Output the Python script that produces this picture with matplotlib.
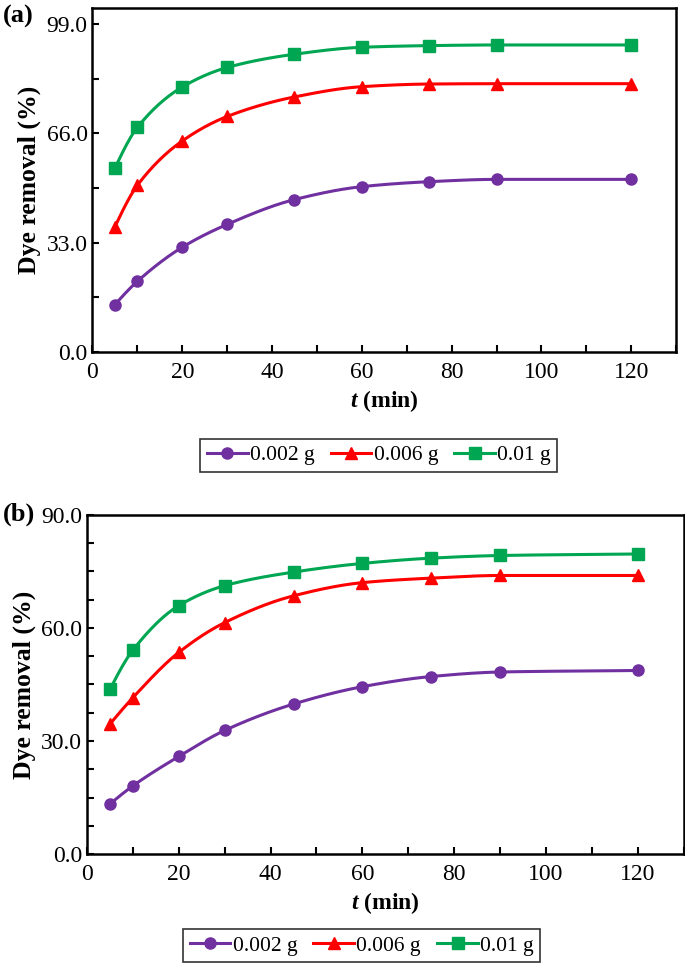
import numpy as np
import matplotlib
matplotlib.use("Agg")
import matplotlib.pyplot as plt
from matplotlib.ticker import MultipleLocator, FormatStrFormatter
from matplotlib.lines import Line2D

plt.rcParams['font.family'] = ['Liberation Serif', 'DejaVu Serif']
plt.rcParams['mathtext.fontset'] = 'custom'
plt.rcParams['mathtext.it'] = 'Liberation Serif:italic:bold'
plt.rcParams['mathtext.bf'] = 'Liberation Serif:bold'

# time (min)
t = [5, 10, 20, 30, 45, 60, 75, 90, 120]
labels = ["0.002 g", "0.006 g", "0.01 g"]

# panel (a)
a_002 = [14.3, 21.3, 31.6, 38.5, 46.0, 49.9, 51.4, 52.1, 52.1]
a_006 = [37.8, 50.3, 63.7, 71.1, 77.0, 80.1, 80.9, 81.0, 81.0]
a_01 = [55.5, 67.8, 80.0, 85.9, 89.9, 92.0, 92.5, 92.7, 92.7]

# panel (b)
b_002 = [13.3, 18.1, 25.9, 32.8, 39.8, 44.4, 47.1, 48.3, 48.7]
b_006 = [34.5, 41.5, 53.5, 61.4, 68.5, 72.0, 73.2, 73.9, 73.9]
b_01 = [43.7, 54.1, 65.9, 71.2, 74.8, 77.1, 78.5, 79.2, 79.6]

colors = ["#7030A0", "#FF0000", "#00A651"]
markers = ["o", "^", "s"]


def pchip(x, y, xs):
    # monotone cubic curve through the points, only for the smooth line
    x = np.asarray(x, float)
    y = np.asarray(y, float)
    h = np.diff(x)
    d = np.diff(y) / h
    m = np.zeros_like(y)
    for k in range(1, len(x) - 1):
        if d[k - 1] * d[k] > 0:
            w1 = 2 * h[k] + h[k - 1]
            w2 = h[k] + 2 * h[k - 1]
            m[k] = (w1 + w2) / (w1 / d[k - 1] + w2 / d[k])
    m[0] = d[0] * 1.5 - m[1] * 0.5
    m[-1] = d[-1]
    idx = np.clip(np.searchsorted(x, xs) - 1, 0, len(x) - 2)
    hh = h[idx]
    s = (xs - x[idx]) / hh
    h00 = 2 * s**3 - 3 * s**2 + 1
    h10 = s**3 - 2 * s**2 + s
    h01 = -2 * s**3 + 3 * s**2
    h11 = s**3 - s**2
    return h00 * y[idx] + h10 * hh * m[idx] + h01 * y[idx + 1] + h11 * hh * m[idx + 1]


fig = plt.figure(figsize=(6.85, 9.64), dpi=100)
ax1 = fig.add_axes([0.135, 0.635, 0.852, 0.357])
ax2 = fig.add_axes([0.127, 0.114, 0.871, 0.352])


def draw(ax, series, ymajor, yminor, ytop):
    xs = np.linspace(t[0], t[-1], 400)
    for vals, c, mk in zip(series, colors, markers):
        ax.plot(xs, pchip(t, vals, xs), color=c, lw=2.2)
        ax.plot(t, vals, ls="none", marker=mk, color=c, ms=8)
    ax.set_xlim(0, 130)
    ax.set_ylim(0, ytop)
    ax.xaxis.set_major_locator(MultipleLocator(20))
    ax.xaxis.set_minor_locator(MultipleLocator(10))
    ax.yaxis.set_major_locator(MultipleLocator(ymajor))
    ax.yaxis.set_minor_locator(MultipleLocator(yminor))
    ax.yaxis.set_major_formatter(FormatStrFormatter("%.1f"))
    ax.tick_params(which="both", direction="in", labelsize=17, top=False, right=False)
    ax.tick_params(which="both", length=5, width=1.5)
    ax.tick_params(axis="x", pad=7)
    for sp in ax.spines.values():
        sp.set_linewidth(1.8)
    ax.set_xlabel(r"$\mathit{t}$ (min)", fontsize=17, fontweight="bold", labelpad=4)
    ax.set_ylabel("Dye removal (%)", fontsize=18.5, fontweight="bold", labelpad=4)


draw(ax1, [a_002, a_006, a_01], 33, 16.5, 103.95)
draw(ax2, [b_002, b_006, b_01], 30, 7.5, 90)

fig.text(0.004, 0.983, "(a)", fontsize=19, fontweight="bold", va="center")
fig.text(0.004, 0.466, "(b)", fontsize=19, fontweight="bold", va="center")

handles = [Line2D([], [], color=c, marker=mk, lw=2.2, ms=8) for c, mk in zip(colors, markers)]
for pos in [(0.553, 0.528), (0.528, 0.019)]:
    leg = fig.legend(handles, labels, loc="center", bbox_to_anchor=pos, ncol=3,
                     fontsize=15.5, frameon=True, fancybox=False, edgecolor="black",
                     handlelength=1.9, handletextpad=0.1, columnspacing=0.75,
                     borderpad=0.3)
    leg.get_frame().set_linewidth(1.2)

fig.savefig("out.png", dpi=100)
